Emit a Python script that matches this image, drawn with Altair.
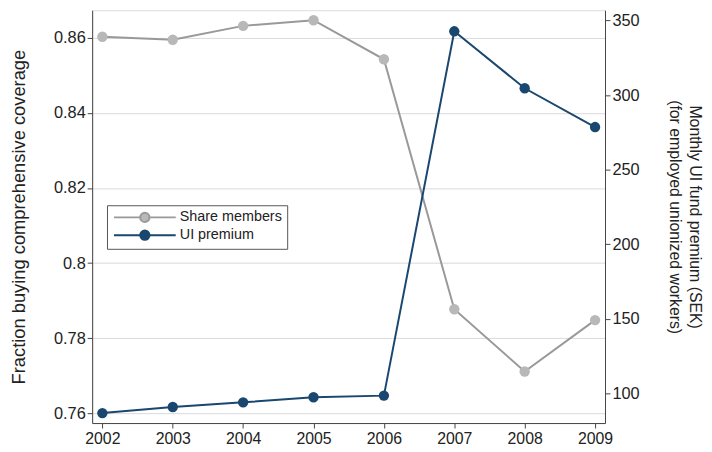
import altair as alt
import pandas as pd

years = [2002, 2003, 2004, 2005, 2006, 2007, 2008, 2009]
share_members = [0.8603, 0.8595, 0.8632, 0.8647, 0.8543, 0.7877, 0.7711, 0.7848]
ui_premium = [86.8, 90.9, 94.0, 97.4, 98.5, 342.8, 304.6, 278.6]

left_ticks = [0.76, 0.78, 0.80, 0.82, 0.84, 0.86]
right_ticks = [100, 150, 200, 250, 300, 350]

series_names = ["Share members", "UI premium"]
line_colors = ["#999999", "#1a476f"]
point_colors = ["#b8b8b8", "#1a476f"]

df = pd.DataFrame({"year": years, "share": share_members, "premium": ui_premium})

FONT = "Liberation Sans"
AXIS_COLOR = "#444444"
TEXT_COLOR = "#222222"

x_enc = alt.X(
    "year:Q",
    scale=alt.Scale(domain=[2001.855, 2009.141], nice=False, zero=False),
    axis=alt.Axis(values=years, format="d", title=None, grid=False,
                  labelFontSize=16, labelColor=TEXT_COLOR, labelPadding=3,
                  tickSize=5, tickColor=AXIS_COLOR, domainColor=AXIS_COLOR,
                  labelFont=FONT),
)

# wide legend symbol: a line with a dot in the middle (shifted right)
sym_path = ("M-1,0H4.1A0.9,0.9,0,1,1,5.9,0A0.9,0.9,0,1,1,4.1,0"
            "M5.9,0H11")

legend = alt.Legend(
    title=None, orient="none", legendX=15, legendY=197,
    symbolType=sym_path, symbolSize=108, symbolStrokeWidth=2,
    labelFontSize=14.5, labelFont=FONT, labelColor=TEXT_COLOR,
    strokeColor="#555555", fillColor="white", padding=5,
    rowPadding=0, labelOffset=54,
)

stroke_scale = alt.Scale(domain=series_names, range=line_colors)
fill_scale = alt.Scale(domain=series_names, range=point_colors)

y_left = alt.Y(
    "share:Q",
    scale=alt.Scale(domain=[0.75737, 0.86737], nice=False, zero=False),
    axis=alt.Axis(values=left_ticks, format="~g", orient="left",
                  title="Fraction buying comprehensive coverage",
                  titleFontSize=18.5, titleFont=FONT, titleFontWeight="normal",
                  titleColor=TEXT_COLOR, titlePadding=25,
                  labelFontSize=16.5, labelFont=FONT, labelColor=TEXT_COLOR,
                  tickSize=5, tickColor=AXIS_COLOR, domainColor=AXIS_COLOR,
                  grid=True, gridColor="#dadada", gridWidth=1),
)

y_right = alt.Y(
    "premium:Q",
    scale=alt.Scale(domain=[80.1, 356.95], nice=False, zero=False),
    axis=alt.Axis(values=right_ticks, orient="right",
                  title=["Monthly UI fund premium (SEK)", "(for employed unionized workers)"],
                  titleFontSize=16, titleFont=FONT, titleFontWeight="normal",
                  titleColor=TEXT_COLOR, titleAngle=90, titlePadding=28,
                  titleLineHeight=20,
                  labelFontSize=16.5, labelFont=FONT, labelColor=TEXT_COLOR,
                  tickSize=5, tickColor=AXIS_COLOR, domainColor=AXIS_COLOR,
                  grid=False),
)

base = alt.Chart(df)


def series_layer(idx, y_enc):
    b = base.transform_calculate(series=f"'{series_names[idx]}'")
    line = b.mark_line(strokeWidth=2).encode(
        x=x_enc, y=y_enc,
        stroke=alt.Stroke("series:N", scale=stroke_scale, legend=legend),
    )
    pts = b.mark_point(filled=True, size=110, opacity=1).encode(
        x=x_enc, y=y_enc,
        fill=alt.Fill("series:N", scale=fill_scale, legend=legend),
    )
    return alt.layer(line, pts)


chart = alt.layer(series_layer(0, y_left), series_layer(1, y_right)).resolve_scale(
    y="independent"
).properties(
    width=518, height=417,
    autosize=alt.AutoSizeParams(type="none"),
    padding={"left": 85, "top": 0, "right": 100, "bottom": 28},
).configure_view(stroke=None).configure(background="white")

chart.save("out.html", embed_options={"renderer": "svg", "actions": False})
